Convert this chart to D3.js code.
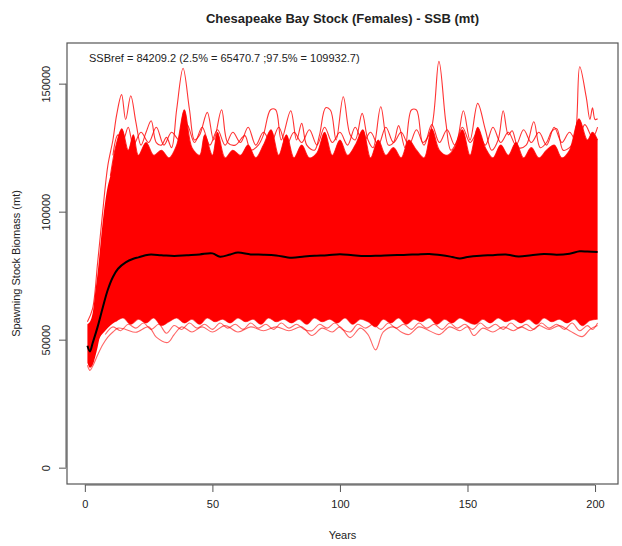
<!DOCTYPE html>
<html>
<head>
<meta charset="utf-8">
<script src="https://cdn.jsdelivr.net/npm/d3@7"></script>
<style>
  body { margin: 0; background: #fff; }
  text { font-family: "Liberation Sans", Arial, sans-serif; fill: #222; }
</style>
</head>
<body>
<div id="chart"></div>
<script>
// median trajectory (black line) [year, SSB]
var median = [[1,47600],[2,45400],[3,48500],[5,55000],[7,62500],[9,69500],[11,74500],[13,77700],[16,80200],[19,81600],[21,82150],[25,83200],[30,83000],[35,82700],[40,83000],[45,83300],[50,83700],[53,82400],[57,83300],[60,84000],[65,83300],[70,83200],[75,82900],[81,82000],[86,82500],[90,82800],[95,83000],[100,83400],[105,83000],[110,82700],[115,82800],[120,83000],[125,83100],[130,83300],[135,83500],[140,83000],[144,82300],[147,81700],[150,82300],[155,82800],[160,83000],[165,83300],[170,82500],[175,83000],[180,83500],[185,83200],[190,83600],[194,84500],[197,84400],[201,84200]];

// edges of the solid cloud during the first years
var earlyHigh = [[1,56000],[2,57000],[3,60000],[4,68000],[5,76000],[6,86000],[7,96000],[8,104000],[9,110000]];
var earlyLow = [[1,41000],[2,39000],[3,40000],[4,43000],[5,47000],[6,51000],[8,53500],[10,55500]];

// outer trajectories at the top of the cloud
var maxLine = [[1,57000],[3,62000],[5,80000],[7,100000],[9,118000],[11,128000],[12.5,138000],[14.4,145700],[16,136000],[18,145300],[20,135000],[22,126000],[24,131000],[26,135500],[28,127000],[30,126000],[32,129000],[34,125000],[36,140000],[38.5,156000],[41,140000],[43,128000],[45,130000],[48,138800],[50.5,128000],[53.6,139800],[56,127000],[59,126000],[62.7,129700],[65,124000],[68,126000],[70,130000],[72.8,139800],[74.8,139800],[77,128000],[80.7,139400],[83,128000],[85,134500],[87,126000],[90,124000],[92,130000],[94.4,140600],[96.3,139600],[98.5,128000],[101.3,144900],[104,130000],[106,128000],[108.7,138400],[111,128000],[113,125000],[116,141000],[119,126000],[121,127000],[123,133600],[125.5,125000],[128,139700],[130,139700],[132.5,127000],[135.8,132400],[138.8,158700],[141.5,135000],[143.5,124000],[146,128000],[148.4,139400],[151,128000],[154,142300],[157,132000],[159.5,124000],[162,128000],[164,139400],[166,130000],[167.5,131600],[170,125000],[173,126000],[176,135100],[178.5,125000],[181,127000],[183,131400],[185,132400],[187.5,124000],[190,125000],[192,128000],[194,156600],[196.5,145000],[198,136000],[199,140600],[200,136000],[201,136300]];
var upper3 = [[11,122000],[13,130000],[15,128000],[17,133000],[19,126000],[22,131000],[25,127000],[28,133000],[31,126000],[34,131000],[37,128000],[40,134000],[43,127000],[46,133000],[49,126000],[52,132000],[55,126000],[58,131000],[61,127000],[64,133000],[67,126000],[70,131000],[73,127000],[76,133000],[79,126000],[82,131000],[85,127000],[88,132000],[91,126000],[94,133000],[97,127000],[100,131000],[103,126000],[106,133000],[109,127000],[112,131000],[115,126000],[118,133000],[121,127000],[124,131000],[127,126000],[130,132000],[133,126000],[136,134000],[139,127000],[142,132000],[145,126000],[148,133000],[151,127000],[154,131000],[157,126000],[160,133000],[163,127000],[166,131000],[169,126000],[172,132000],[175,127000],[178,131000],[181,126000],[184,133000],[187,127000],[190,131000],[193,127000],[196,134000],[199,129000],[201,133000]];
var upper2 = [[10,114000],[12,125000],[14.5,132400],[17,124000],[19,130000],[21,122000],[24,127000],[27,122000],[30,124000],[33,121000],[36,126000],[39,139800],[42,125000],[45,122000],[47,130000],[50,122000],[52,131000],[55,121000],[58,124000],[61,122000],[64,126000],[67,121000],[70,126000],[73,132000],[76,122000],[79,130000],[82,121000],[85,126000],[88,121000],[91,123000],[94,131000],[97,122000],[100,128000],[103,122000],[106,126000],[109,132000],[112,121000],[115,128000],[118,122000],[121,125000],[124,121000],[127,128000],[130,124000],[133,121000],[136,132400],[139,124000],[142,122000],[145,125000],[148,132000],[151,122000],[154,133000],[157,125000],[160,121000],[163,126000],[166,122000],[169,127000],[172,121000],[175,125000],[178,121000],[181,124000],[184,126000],[187,121000],[190,124000],[193.7,136300],[197,128000],[199,131000],[201,128000]];

// outer trajectories at the bottom of the cloud
var minLine = [[1,40000],[2,38000],[3,39500],[5,44000],[7,48000],[9,51000],[11,53000],[13,54500],[16,54000],[20,52900],[25,55000],[28,51000],[32.5,48900],[35,52000],[38,55000],[42,53000],[46,55000],[50,53000],[55,55500],[60,53000],[65,55000],[70,53500],[75,55000],[80,53500],[85,55000],[89,51600],[93,54500],[97,53000],[100,55000],[104,50800],[108,54500],[111,52000],[114,46000],[117,53000],[121,55000],[124,53000],[127,52000],[131,55000],[135,53500],[139,52000],[143,55000],[147,53500],[150,55000],[152.5,51600],[156,54500],[160,53000],[164,55000],[168,53500],[171,55000],[174.8,53500],[178,55500],[182,54000],[186,55500],[190,53500],[195,51200],[198,54000],[201,55500]];
var lower3 = [[8,52000],[11,55000],[14,53500],[17,56000],[20,54500],[23,56500],[26,54000],[29,56000],[32,52500],[35,55500],[38,54000],[41,56500],[44,54500],[47,56000],[50,54000],[53,56500],[56,54500],[59,56000],[62,54000],[65,56500],[68,54500],[71,56000],[74,54000],[77,56500],[80,54500],[83,56000],[86,54000],[89,53500],[92,56000],[95,54500],[98,56500],[101,54000],[104,53000],[107,56000],[110,54500],[113,56000],[116,54000],[119,56500],[122,54500],[125,56000],[128,54000],[131,56500],[134,54500],[137,56000],[140,54000],[143,56500],[146,54500],[149,56000],[152,54000],[155,56500],[158,54500],[161,56000],[164,54000],[167,56500],[170,54500],[173,56000],[176,54000],[179,56500],[182,54500],[185,56000],[188,54000],[191,56500],[194,53500],[197,55500],[199,54000],[201,56500]];
var lower2 = [[12,57000],[15,58500],[18,56000],[21,58000],[24,56500],[27,58500],[30,55500],[33,57000],[36,58500],[39,56500],[42,58000],[45,56000],[48,58500],[51,57000],[54,58000],[57,56500],[60,58500],[63,57000],[66,58000],[69,56000],[72,58500],[75,57000],[78,58000],[81,56500],[84,58000],[87,56000],[90,58500],[93,57000],[96,58000],[99,56500],[102,58500],[105,56000],[108,58000],[111,57000],[114,55000],[117,58000],[120,56500],[123,58500],[126,56000],[129,58000],[132,57000],[135,58500],[138,56000],[141,58000],[144,56500],[147,58500],[150,57000],[153,56000],[156,58000],[159,56500],[162,58500],[165,57000],[168,58000],[171,56500],[174,58000],[177,56000],[180,58500],[183,57000],[186,58000],[189,56500],[192,58000],[195,55500],[198,57500],[201,58000]];

var xTicks = [0, 50, 100, 150, 200];
var yTicks = [0, 50000, 100000, 150000];
var yearRange = [1, 201];
var ssbRange = [0, 159500];

var title = "Chesapeake Bay Stock (Females) - SSB (mt)";
var note = "SSBref = 84209.2 (2.5% = 65470.7 ;97.5% = 109932.7)";

var width = 622, height = 546;
var box = { left: 67, right: 618, top: 43, bottom: 484 };

var svg = d3.select("#chart").append("svg")
  .attr("width", width)
  .attr("height", height);

// R style 4% padding on both axes
var padX = (yearRange[1] - yearRange[0]) * 0.04;
var padY = (ssbRange[1] - ssbRange[0]) * 0.04;

var x = d3.scaleLinear()
  .domain([yearRange[0] - padX, yearRange[1] + padX])
  .range([box.left, box.right]);

var y = d3.scaleLinear()
  .domain([ssbRange[0] - padY, ssbRange[1] + padY])
  .range([box.bottom, box.top]);

var line = d3.line()
  .x(function(d) { return x(d[0]); })
  .y(function(d) { return y(d[1]); })
  .curve(d3.curveCatmullRom.alpha(0.5));

//closed band between two outlines, edges drawn with the line curve
var band = function(lo, hi) {
  var top = line(hi);
  var bot = line(lo.slice().reverse());
  return top + "L" + bot.slice(1) + "Z";
};

var plot = svg.append("g");

// solid cloud in one piece (avoids seams)
var cloudTop = earlyHigh.concat(upper2);
var cloudBottom = earlyLow.concat(lower2);
plot.append("path")
  .attr("d", band(cloudBottom, cloudTop))
  .attr("fill", "#ff0000");

// outer simulation lines
[maxLine, upper3, upper2].forEach(function(s) {
  plot.append("path")
    .attr("d", line(s))
    .attr("fill", "none")
    .attr("stroke", "#ff0000")
    .attr("stroke-opacity", 0.8)
    .attr("stroke-width", 1.1);
});
[minLine, lower3, lower2].forEach(function(s) {
  plot.append("path")
    .attr("d", line(s))
    .attr("fill", "none")
    .attr("stroke", "#ff0000")
    .attr("stroke-opacity", 0.6)
    .attr("stroke-width", 1.1);
});

// median
plot.append("path")
  .attr("d", line(median))
  .attr("fill", "none")
  .attr("stroke", "#000")
  .attr("stroke-width", 2);

// box
svg.append("rect")
  .attr("x", box.left)
  .attr("y", box.top)
  .attr("width", box.right - box.left)
  .attr("height", box.bottom - box.top)
  .attr("fill", "none")
  .attr("stroke", "#555")
  .attr("stroke-width", 1.2);

// x axis
var xAxis = d3.axisBottom(x).tickValues(xTicks).tickSize(7).tickPadding(8);
var gx = svg.append("g")
  .attr("transform", "translate(0," + (box.bottom + 1) + ")")
  .call(xAxis);
gx.select(".domain")
  .attr("d", "M" + x(xTicks[0]) + ",0H" + x(xTicks[xTicks.length - 1]))
  .attr("stroke", "#555");
gx.selectAll(".tick line").attr("stroke", "#555");
gx.selectAll("text").style("font-size", "11px").attr("fill", "#222");

// y axis
var yAxis = d3.axisLeft(y).tickValues(yTicks).tickSize(7).tickFormat(d3.format("d"));
var gy = svg.append("g")
  .attr("transform", "translate(" + (box.left - 1) + ",0)")
  .call(yAxis);
gy.select(".domain")
  .attr("d", "M0," + y(yTicks[0]) + "V" + y(yTicks[yTicks.length - 1]))
  .attr("stroke", "#555");
gy.selectAll(".tick line").attr("stroke", "#555");
gy.selectAll("text")
  .style("font-size", "11px")
  .attr("fill", "#222")
  .attr("text-anchor", "middle")
  .attr("x", 0)
  .attr("dy", 0)
  .attr("transform", "translate(-16,0) rotate(-90)");

// titles
svg.append("text")
  .attr("x", (box.left + box.right) / 2)
  .attr("y", 23)
  .attr("text-anchor", "middle")
  .style("font-size", "13px")
  .style("font-weight", "bold")
  .text(title);

svg.append("text")
  .attr("x", (box.left + box.right) / 2)
  .attr("y", 539)
  .attr("text-anchor", "middle")
  .style("font-size", "11px")
  .text("Years");

svg.append("text")
  .attr("transform", "translate(20," + ((box.top + box.bottom) / 2) + ") rotate(-90)")
  .attr("text-anchor", "middle")
  .style("font-size", "11px")
  .text("Spawning Stock Biomass (mt)");

svg.append("text")
  .attr("x", 89)
  .attr("y", 62)
  .style("font-size", "11px")
  .text(note);
</script>
</body>
</html>
